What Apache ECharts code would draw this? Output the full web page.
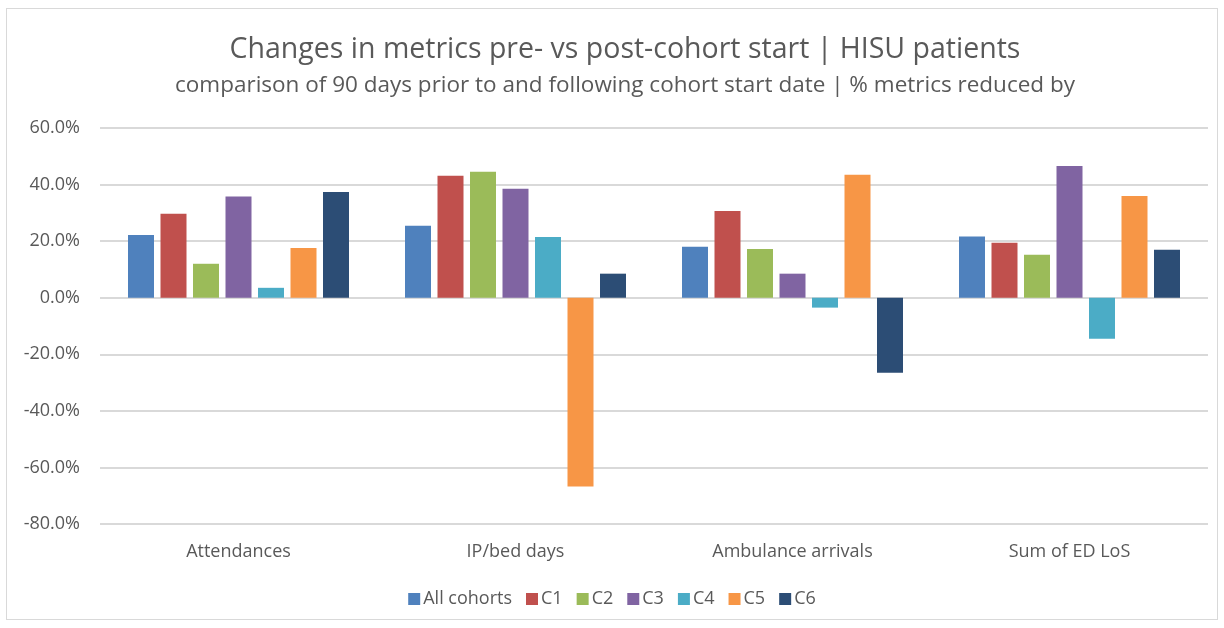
<!DOCTYPE html>
<html>
<head>
<meta charset="utf-8">
<script src="https://cdn.jsdelivr.net/npm/echarts@6/dist/echarts.min.js"></script>
<style>
  html, body { margin: 0; padding: 0; background: #fff; }
  #frame { position: absolute; left: 6px; top: 8px; width: 1210px; height: 610px; border: 1px solid #d9d9d9; }
  #chart { position: absolute; left: 0; top: 0; width: 1224px; height: 628px; }
</style>
</head>
<body>
<div id="frame"></div>
<div id="chart"></div>
<script>
// categories and series (percent reduction)
var categories = ["Attendances", "IP/bed days", "Ambulance arrivals", "Sum of ED LoS"];
var seriesNames = ["All cohorts", "C1", "C2", "C3", "C4", "C5", "C6"];
var allCohorts = [22.2, 25.4, 18.0, 21.6];
var c1 = [29.7, 43.1, 30.7, 19.4];
var c2 = [12.0, 44.5, 17.2, 15.2];
var c3 = [35.8, 38.5, 8.5, 46.6];
var c4 = [3.5, 21.5, -3.5, -14.5];
var c5 = [17.6, -66.7, 43.5, 36.0];
var c6 = [37.4, 8.5, -26.5, 17.0];
var colors = ["#4F81BD", "#C0504D", "#9BBB59", "#8064A2", "#4BACC6", "#F79646", "#2C4D75"];

var values = [allCohorts, c1, c2, c3, c4, c5, c6];
var font = "Open Sans";

var chart = echarts.init(document.getElementById("chart"), null, { renderer: "canvas" });

var series = [];
for (var i = 0; i < seriesNames.length; i++) {
    series.push({
        name: seriesNames[i],
        type: "bar",
        data: values[i],
        barWidth: 26,
        barGap: "25%",
        itemStyle: { color: colors[i] }
    });
}

chart.setOption({
    animation: false,
    title: {
        text: "Changes in metrics pre- vs post-cohort start | HISU patients",
        subtext: "comparison of 90 days prior to and following cohort start date | % metrics reduced by",
        left: 620,
        textAlign: "center",
        top: 30,
        itemGap: 10,
        textStyle: { fontFamily: font, fontSize: 28.5, fontWeight: "normal", color: "#595959" },
        subtextStyle: { fontFamily: font, fontSize: 22.5, color: "#595959" }
    },
    legend: {
        bottom: 15,
        left: "center",
        itemWidth: 12,
        itemHeight: 12,
        itemGap: 14,
        icon: "rect",
        textStyle: { fontFamily: font, fontSize: 18, color: "#595959", padding: [0, 0, 0, -2] },
        data: seriesNames
    },
    grid: { left: 100, right: 16, top: 128, bottom: 104 },
    xAxis: {
        type: "category",
        data: categories,
        position: "bottom",
        axisLine: { show: false },
        axisTick: { show: false },
        axisLabel: { fontFamily: font, fontSize: 18, color: "#595959", margin: 19 }
    },
    yAxis: {
        type: "value",
        min: -80,
        max: 60,
        interval: 20,
        axisLine: { show: false },
        axisTick: { show: false },
        splitLine: { lineStyle: { color: "#d9d9d9", width: 2 } },
        axisLabel: {
            fontFamily: font, fontSize: 18, color: "#595959", margin: 20,
            formatter: function (v) { return v.toFixed(1) + "%"; }
        }
    },
    series: series
});
</script>
</body>
</html>
